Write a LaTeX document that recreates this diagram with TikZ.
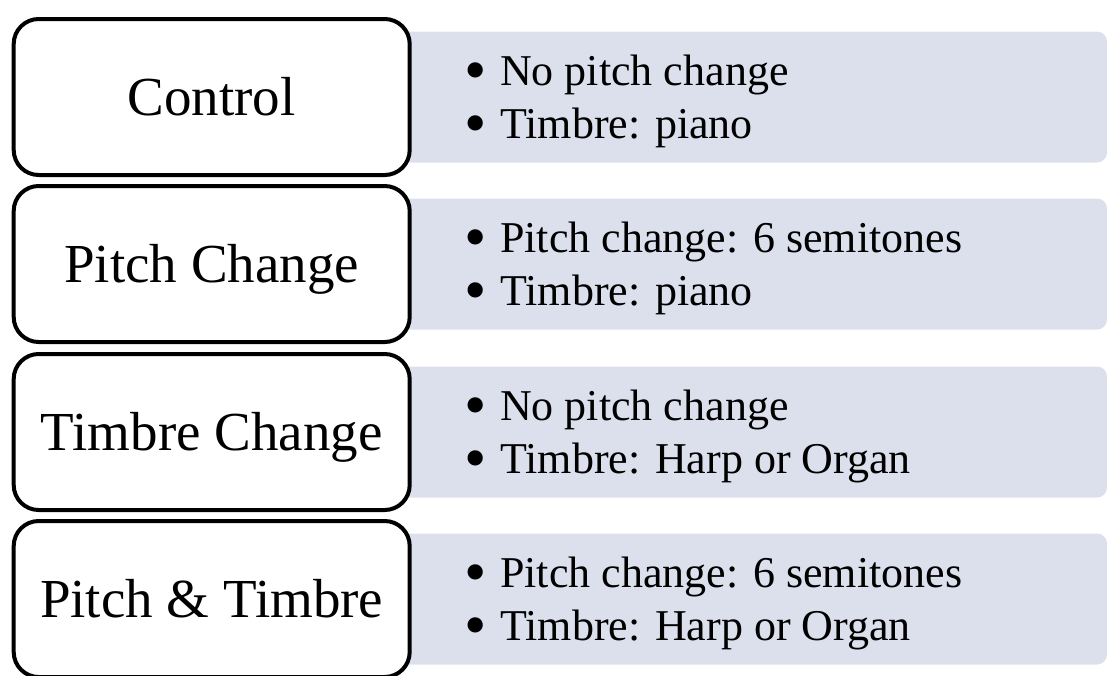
\documentclass[tikz,border=0pt]{standalone}
\usepackage{fontspec}
\usepackage{graphicx}
\setmainfont{Liberation Serif}
\usetikzlibrary{positioning}
\definecolor{panelblue}{RGB}{219,224,236}
\newcommand{\blt}{\makebox[36pt][l]{\smash{\raisebox{-6pt}{\scalebox{1.45}{\textbullet}}}}}

\begin{document}
\begin{tikzpicture}[x=1pt,y=-1pt,
    condbox/.style={draw=black, line width=4pt, fill=white, rounded corners=25pt,
        minimum width=396pt, minimum height=156pt, inner sep=0pt,
        text height=37pt, text depth=0pt, font=\fontsize{55}{60}\selectfont},
    infobox/.style={fill=panelblue, rounded corners=10pt, minimum width=707pt,
        minimum height=131pt, inner sep=0pt},
    itemtext/.style={anchor=base west, inner sep=0pt, text depth=0pt,
        font=\fontsize{44}{53}\selectfont}]
        \useasboundingbox (0,0) rectangle (1107,675);
        % panels behind
        \node[infobox] (ctrl-info) at (753.5,97) {};
        \node[infobox] (pitch-info) at (753.5,264) {};
        \node[infobox] (timbre-info) at (753.5,432) {};
        \node[infobox] (both-info) at (753.5,599) {};
        % condition boxes
        \node[condbox] (ctrl) at (211.7,97) {Control};
        \node[condbox] (pitch) at (211.7,264) {Pitch Change};
        \node[condbox] (timbre) at (211.7,432) {Timbre Change};
        \node[condbox] (both) at (211.7,599) {Pitch \& Timbre};
        % bullet lines
        \node[itemtext] (ctrl-a) at (464,85) {\blt No pitch change};
        \node[itemtext] (ctrl-b) at (464,138) {\blt Timbre: piano};
        \node[itemtext] (pitch-a) at (464,252) {\blt Pitch change: 6 semitones};
        \node[itemtext] (pitch-b) at (464,305) {\blt Timbre: piano};
        \node[itemtext] (timbre-a) at (464,420) {\blt No pitch change};
        \node[itemtext] (timbre-b) at (464,473) {\blt Timbre: Harp or Organ};
        \node[itemtext] (both-a) at (464,587) {\blt Pitch change: 6 semitones};
        \node[itemtext] (both-b) at (464,640) {\blt Timbre: Harp or Organ};
\end{tikzpicture}
\end{document}
